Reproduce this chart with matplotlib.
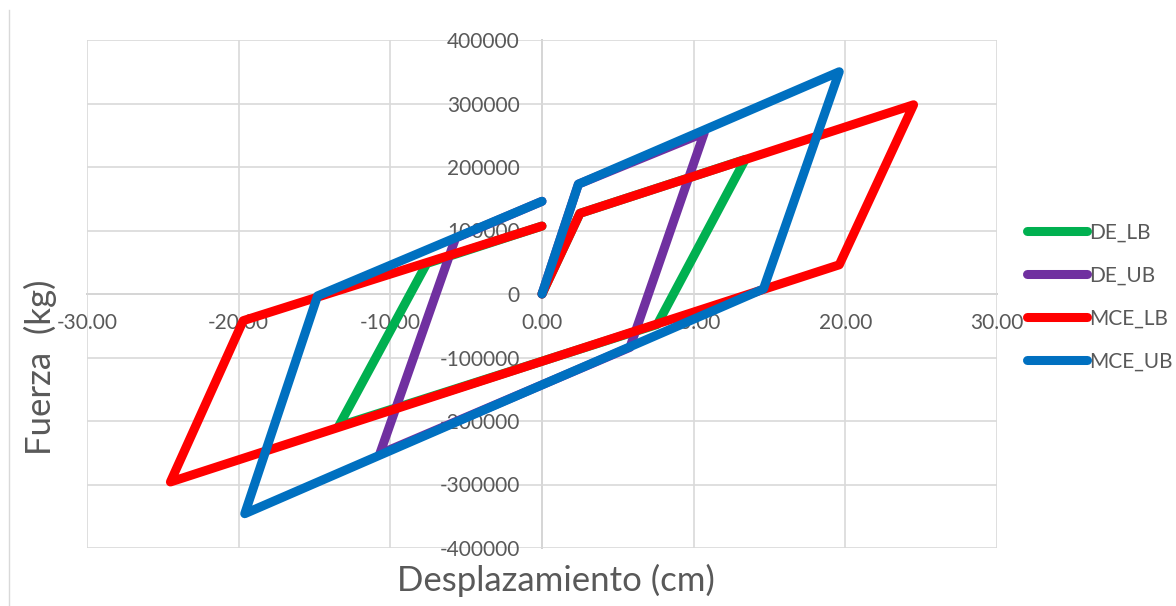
import matplotlib.pyplot as plt
from matplotlib.lines import Line2D

plt.rcParams['font.family'] = ['Lato', 'DejaVu Sans']

# hysteresis loops: displacement (cm) and force (kg)
de_lb_x = [0.0, 2.5, 13.4, 7.6, -13.4, -7.6, 0.0]
de_lb_y = [0, 127000, 212000, -48000, -208000, 48000, 107000]

de_ub_x = [0.0, 2.4, 10.7, 5.8, -10.7, -5.7, 0.0]
de_ub_y = [0, 173000, 254000, -84000, -252000, 88000, 146000]

mce_lb_x = [0.0, 2.5, 24.5, 19.6, -24.5, -19.7, 0.0]
mce_lb_y = [0, 127000, 298000, 46000, -296000, -42000, 107000]

mce_ub_x = [0.0, 2.4, 19.6, 14.6, -19.6, -14.8, 0.0]
mce_ub_y = [0, 173000, 350000, 8000, -346000, -3000, 146000]

series = [
    ('DE_LB', de_lb_x, de_lb_y, '#00b050'),
    ('DE_UB', de_ub_x, de_ub_y, '#7030a0'),
    ('MCE_LB', mce_lb_x, mce_lb_y, '#ff0000'),
    ('MCE_UB', mce_ub_x, mce_ub_y, '#0070c0'),
]

xticks = [-30, -20, -10, 0, 10, 20, 30]
yticks = [-400000, -300000, -200000, -100000, 0, 100000, 200000, 300000, 400000]

fig = plt.figure(figsize=(11.76, 6.06), dpi=100)
ax = fig.add_axes([87 / 1176, 58 / 606, 910 / 1176, 508 / 606])

for name, xs, ys, c in series:
    ax.plot(xs, ys, color=c, lw=6.5, label=name,
            solid_capstyle='round', solid_joinstyle='round', zorder=3)

ax.set_xlim(-30, 30)
ax.set_ylim(-400000, 400000)
ax.set_xticks(xticks)
ax.set_yticks(yticks)
ax.set_xticklabels(['%.2f' % v for v in xticks])
ax.set_yticklabels([str(v) for v in yticks])
ax.grid(True, color='#d9d9d9', lw=1.2, zorder=0)

ax.spines['left'].set_position(('data', 0))
ax.spines['bottom'].set_position(('data', 0))
ax.spines['top'].set_visible(False)
ax.spines['right'].set_visible(False)
for s in ('left', 'bottom'):
    ax.spines[s].set_color('#bfbfbf')
    ax.spines[s].set_linewidth(1.2)
    ax.spines[s].set_zorder(1)

ax.tick_params(axis='both', length=0, labelsize=15, labelcolor='#595959')
ax.tick_params(axis='x', pad=14)
ax.tick_params(axis='y', pad=16)
for lab in ax.get_xticklabels() + ax.get_yticklabels():
    lab.set_zorder(2)

fig.text(556 / 1176, 1 - 580 / 606, 'Desplazamiento (cm)', ha='center', va='center',
         fontsize=25, color='#595959')
fig.text(40 / 1176, 1 - 367 / 606, 'Fuerza  (kg)', ha='center', va='center',
         rotation=90, fontsize=25, color='#595959')

handles = [Line2D([], [], color=c, lw=6.5, solid_capstyle='round') for _, _, _, c in series]
fig.legend(handles, [s[0] for s in series], loc='center left',
           bbox_to_anchor=(1008 / 1176, 1 - 297 / 606), frameon=False,
           fontsize=15, labelcolor='#595959', handlelength=2.9,
           handletextpad=0.1, labelspacing=1.1)

# outer chart border (left edge visible)
fig.add_artist(Line2D([9 / 1176, 9 / 1176], [0, 1 - 10 / 606], color='#d9d9d9', lw=1))

fig.savefig('out.png', dpi=100, facecolor='white')
